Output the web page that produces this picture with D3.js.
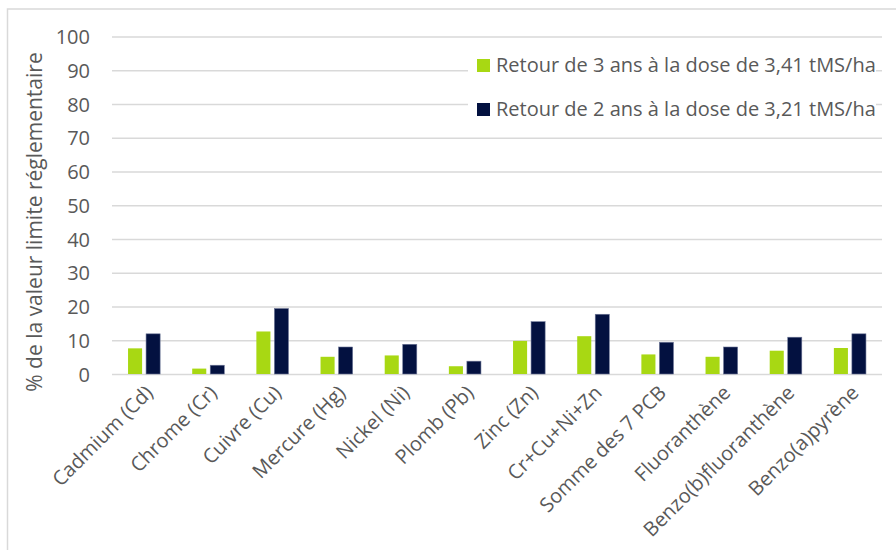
<!DOCTYPE html>
<html><head><meta charset="utf-8">
<script src="https://cdn.jsdelivr.net/npm/d3@7"></script>
<style>body{margin:0;background:#fff;} text{font-family:"Open Sans",sans-serif;}</style>
</head><body><svg id="c" width="896" height="550"></svg>
<script>
const categories = ["Cadmium (Cd)","Chrome (Cr)","Cuivre (Cu)","Mercure (Hg)","Nickel (Ni)","Plomb (Pb)","Zinc (Zn)","Cr+Cu+Ni+Zn","Somme des 7 PCB","Fluoranthène","Benzo(b)fluoranthène","Benzo(a)pyrène"];
const seriesNames = ["Retour de 3 ans à la dose de 3,41 tMS/ha","Retour de 2 ans à la dose de 3,21 tMS/ha"];
const retour3 = [7.6,1.6,12.6,5.1,5.5,2.3,9.8,11.2,5.8,5.1,6.9,7.7];
const retour2 = [11.9,2.6,19.4,8.0,8.8,3.8,15.5,17.7,9.4,8.0,10.9,11.9];
const yTicks = [0,10,20,30,40,50,60,70,80,90,100];
const yTitle = "% de la valeur limite réglementaire";

const colors = ["#a8d813","#031140"];
const svg = d3.select("#c");
const m = {left:112, right:882, top:36.5, bottom:374};

// outer border
svg.append("rect").attr("x",7.5).attr("y",9).attr("width",900).attr("height",560)
  .attr("fill","none").attr("stroke","#d9d9d9").attr("stroke-width",1.5);

const x0 = d3.scaleBand().domain(categories).range([m.left,m.right]).paddingInner(0.5).paddingOuter(0.25);
const x1 = d3.scaleBand().domain([0,1]).range([0,x0.bandwidth()]).paddingInner(0.22);
const y = d3.scaleLinear().domain([0,100]).range([m.bottom,m.top]);

// gridlines
const yAxis = d3.axisLeft(y).tickValues(yTicks).tickSize(-(m.right-m.left)).tickPadding(22);
const ga = svg.append("g").attr("transform",`translate(${m.left},0)`).call(yAxis);
ga.select(".domain").remove();
ga.selectAll(".tick line").attr("stroke","#d9d9d9").attr("stroke-width",1.5);
ga.selectAll(".tick text").attr("fill","#595959").style("font-size","20px").attr("dy","0.35em");

// bars
const data = categories.map((c,i)=>({c, v:[retour3[i],retour2[i]]}));
const groups = svg.append("g").selectAll("g").data(data).join("g")
  .attr("transform",d=>`translate(${x0(d.c)},0)`);
groups.selectAll("rect").data(d=>d.v.map((v,k)=>({v,k}))).join("rect")
  .attr("x",d=>x1(d.k)).attr("width",x1.bandwidth())
  .attr("y",d=>y(d.v)).attr("height",d=>y(0)-y(d.v))
  .attr("fill",d=>colors[d.k])
  .attr("stroke",d=>d.k===1?"#6c7596":"none").attr("stroke-width",0.6);

// x labels
const xl = svg.append("g");
categories.forEach(c=>{
  const cx = x0(c)+x0.bandwidth()/2;
  xl.append("text").attr("text-anchor","end")
    .attr("transform",`translate(${cx+10},${m.bottom+20}) rotate(-45)`)
    .attr("fill","#595959").style("font-size","20px").text(c);
});

// y title
svg.append("text").attr("text-anchor","middle")
  .attr("transform",`translate(42,222) rotate(-90)`)
  .attr("fill","#595959").style("font-size","21px").text(yTitle);

// legend
const lg = svg.append("g");
lg.append("rect").attr("x",468).attr("y",44).attr("width",408).attr("height",84).attr("fill","#fff");
seriesNames.forEach((s,i)=>{
  const yy = 65 + i*44;
  lg.append("rect").attr("x",477).attr("y",yy-6).attr("width",13).attr("height",13).attr("fill",colors[i]);
  lg.append("text").attr("x",496).attr("y",yy).attr("dy","0.35em").attr("fill","#595959")
    .style("font-size","20px").text(s);
});
</script></body></html>
